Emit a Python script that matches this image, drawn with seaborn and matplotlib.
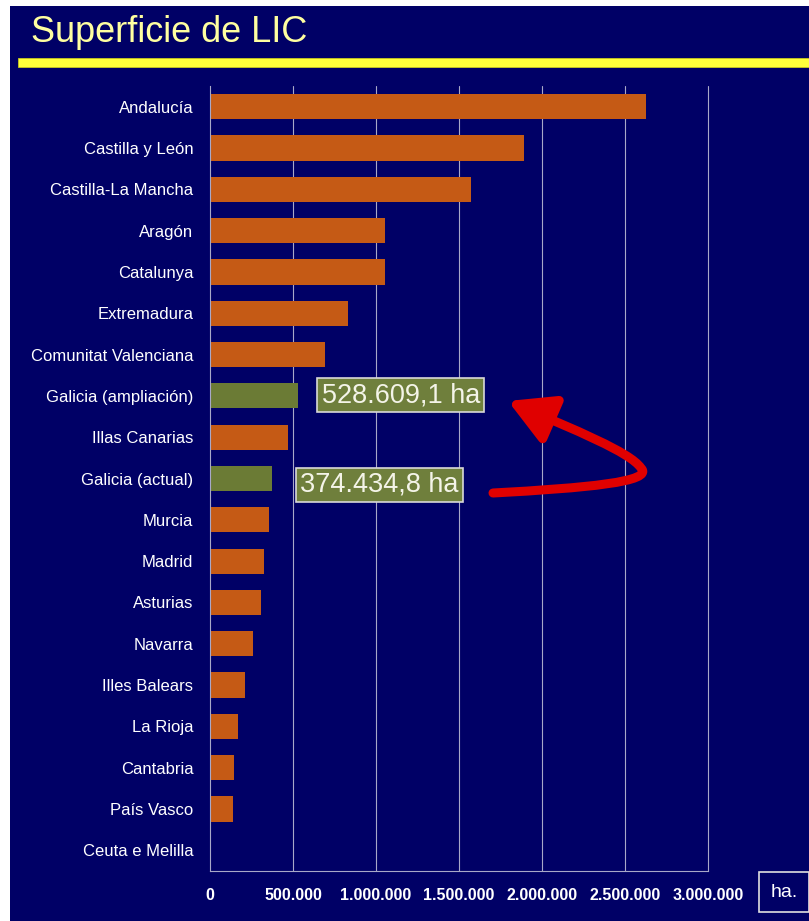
import numpy as np
import pandas as pd
import matplotlib
matplotlib.use("Agg")
import matplotlib.pyplot as plt
import seaborn as sns
from matplotlib.patches import Rectangle, FancyArrowPatch
from matplotlib.path import Path
from matplotlib.ticker import FuncFormatter

# datos (ha)
regiones = ['Andalucía', 'Castilla y León', 'Castilla-La Mancha', 'Aragón', 'Catalunya',
            'Extremadura', 'Comunitat Valenciana', 'Galicia (ampliación)', 'Illas Canarias',
            'Galicia (actual)', 'Murcia', 'Madrid', 'Asturias', 'Navarra', 'Illes Balears',
            'La Rioja', 'Cantabria', 'País Vasco', 'Ceuta e Melilla']
superficie = [2627000, 1893000, 1570000, 1057000, 1055000,
              830000, 692000, 528609.1, 471000,
              374434.8, 355000, 323000, 307000, 259000, 212000,
              170000, 143000, 137000, 2000]
destacadas = ['Galicia (ampliación)', 'Galicia (actual)']
x_ticks = [0, 500000, 1000000, 1500000, 2000000, 2500000, 3000000]

NAVY = '#000066'
NARANJA = '#c55a15'
VERDE = '#6b7b35'
GRIS = '#a8a8c8'

sns.set_style('dark')
plt.rcParams['font.family'] = ['Liberation Sans', 'DejaVu Sans']

df = pd.DataFrame({'region': regiones, 'ha': superficie})
colores = {r: (VERDE if r in destacadas else NARANJA) for r in regiones}

W, H = 809, 921
fig = plt.figure(figsize=(W / 100, H / 100), dpi=100, facecolor='white')
fig.add_artist(Rectangle((10 / W, 0), 1, 1 - 6 / H, transform=fig.transFigure,
                         facecolor=NAVY, edgecolor='none', zorder=-5))
fig.add_artist(Rectangle((18 / W, 1 - 67 / H), 1, 9 / H, transform=fig.transFigure,
                         facecolor='#ffff3a', edgecolor='#c8c820', lw=0.6, zorder=1))
fig.text(31 / W, 1 - 33 / H, 'Superficie de LIC', fontsize=26, color='#ffffa0',
         va='center', ha='left')

ax = fig.add_axes([210 / W, 1 - 871 / H, (708 - 210) / W, (871 - 86) / H])
ax.set_facecolor(NAVY)
sns.barplot(data=df, x='ha', y='region', hue='region', palette=colores, legend=False,
            orient='h', width=0.61, ax=ax, edgecolor='none', saturation=1)

ax.set_xlim(0, 3000000)
ax.set_ylim(len(regiones) - 0.5, -0.5)
ax.set_xticks(x_ticks)
ax.xaxis.set_major_formatter(FuncFormatter(lambda v, p: f'{int(v):,}'.replace(',', '.')))
ax.set_yticks(np.arange(-0.5, len(regiones)), minor=True)
ax.set_xlabel('')
ax.set_ylabel('')

ax.grid(False)
for xv in x_ticks[1:]:
    ax.axvline(xv, color=GRIS, lw=0.8, zorder=0, clip_on=False)

for s in ['top', 'right']:
    ax.spines[s].set_visible(False)
for s in ['left', 'bottom']:
    ax.spines[s].set_visible(True)
    ax.spines[s].set_color(GRIS)
    ax.spines[s].set_linewidth(0.8)

ax.tick_params(axis='y', which='major', length=0, pad=12, labelsize=12, labelcolor='white')
ax.tick_params(axis='y', which='minor', length=5, width=0.8, color=GRIS)
ax.tick_params(axis='x', which='major', length=4, width=0.8, color=GRIS, pad=8,
               labelsize=11.5, labelcolor='white')
for t in ax.get_xticklabels():
    t.set_fontweight('bold')

# cuadros con los valores de Galicia
def fmt_ha(v):
    s = f'{v:,.1f}'
    return s.replace(',', 'X').replace('.', ',').replace('X', '.') + ' ha'

caja = dict(boxstyle='square,pad=0.15', facecolor='#6f7f3c', edgecolor='#d8d8d8', lw=1.2)
i_amp = regiones.index('Galicia (ampliación)')
i_act = regiones.index('Galicia (actual)')
ax.text(672000, i_amp - 0.02, fmt_ha(superficie[i_amp]), fontsize=19.5, color='#f4f4e8',
        va='center', ha='left', bbox=caja)
ax.text(545000, i_act + 0.15, fmt_ha(superficie[i_act]), fontsize=19.5, color='#f4f4e8',
        va='center', ha='left', bbox=caja)

# flecha roja
def fp(x, y):
    return (x / W, 1 - y / H)

verts = [fp(493, 493), fp(585, 488), fp(655, 482), fp(641, 468),
         fp(630, 452), fp(575, 430), fp(508, 401)]
codes = [Path.MOVETO, Path.CURVE4, Path.CURVE4, Path.CURVE4,
         Path.CURVE4, Path.CURVE4, Path.CURVE4]
flecha = FancyArrowPatch(path=Path(verts, codes), arrowstyle='-|>,head_length=1.35,head_width=0.75',
                         mutation_scale=20, color='#e00000', lw=6.5,
                         transform=fig.transFigure, zorder=5)
fig.add_artist(flecha)

fig.text(784 / W, 1 - 892 / H, 'ha.', fontsize=14, color='white', ha='center', va='center',
         bbox=dict(boxstyle='square,pad=0.6', facecolor=NAVY, edgecolor='#e0e0e0', lw=1.2))

fig.savefig('out.png', dpi=100, facecolor=fig.get_facecolor())
